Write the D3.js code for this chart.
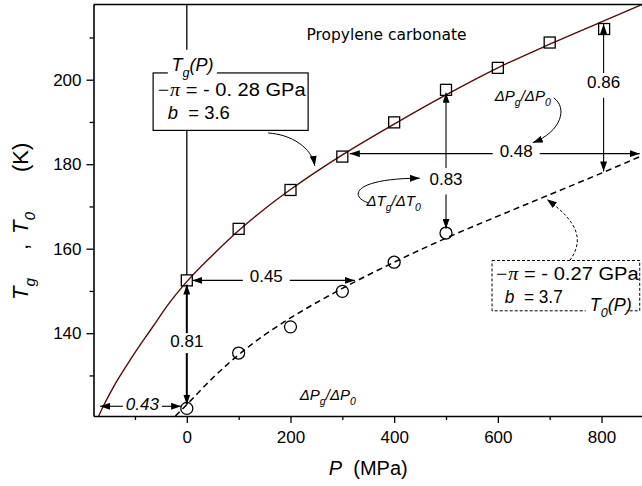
<!DOCTYPE html>
<html><head><meta charset="utf-8">
<script src="https://cdn.jsdelivr.net/npm/d3@7"></script>
<style>
body{margin:0;background:#fff}
svg{display:block}
text{font-family:"Liberation Sans",Arial,sans-serif;fill:#000;white-space:pre}
</style>
</head><body><svg id="c" width="642" height="486"></svg>
<script>
// ---------- data ----------
const xTicksMajor = [0, 200, 400, 600, 800];
const xTicksMinor = [-100, 100, 300, 500, 700];
const yTicksMajor = [140, 160, 180, 200];
const yTicksMinor = [130, 150, 170, 190, 210];

// measured Tg(P) (squares)
const tgPressure = [0, 100, 200, 300, 400, 500, 600, 700, 805];
const tgValues   = [152.5, 164.7, 173.9, 181.8, 189.9, 197.6, 202.8, 208.8, 212.0];
// measured T0(P) (circles)
const t0Pressure = [0, 100, 200, 300, 400, 500];
const t0Values   = [122.2, 135.3, 141.5, 149.9, 156.8, 163.7];
// fitted Tg(P) curve (solid)
const tgFitP = [-170, -160, -140, -120, -100, -80, -60, -40, -20, 0, 50, 100, 150, 200, 300, 400, 500, 600, 700, 800, 880];
const tgFitT = [120.4, 123.0, 127.6, 131.6, 135.4, 139.0, 142.5, 146.1, 149.3, 152.2, 158.5, 164.3, 169.4, 174.0, 182.2, 189.5, 196.4, 202.8, 208.4, 213.7, 217.9];
// fitted T0(P) curve (dashed)
const t0FitP = [-22, 0, 50, 100, 150, 200, 300, 400, 500, 600, 700, 800, 880];
const t0FitT = [120.4, 123.1, 129.4, 134.9, 139.6, 143.6, 150.6, 156.8, 162.5, 167.7, 172.8, 177.9, 182.1];

// ratio annotations
const verticalArrows = [
  {text: '0.81', p: 0,   from: 151.5, to: 123.1, gap: [140.0, 135.3], base: 136.7, w: 2},
  {text: '0.83', p: 500, from: 196.9, to: 164.7, gap: [179.1, 172.8], base: 175.1, w: 1.1},
  {text: '0.86', p: 804, from: 213.2, to: 178.3, gap: [201.6, 195.7], base: 198.0, w: 1.1}
];
const horizontalArrows = [
  {text: '0.45', t: 152.5, from: 10.6,   to: 324,   gap: [108, 198.6],    base: 152.2, italic: false},
  {text: '0.43', t: 122.7, from: -167.2, to: -11,   gap: [-123.4, -48.2], base: 121.9, italic: true},
  {text: '0.48', t: 182.5, from: 314.4,  to: 873.7, gap: [590, 680.8],    base: 181.8, italic: false}
];
const curvedArrows = [
  {pts: [[156.8, 187.4], [202.5, 187.0], [241.1, 183.9], [246.9, 179.6]], dash: false},
  {pts: [[707.8, 195.7], [734.8, 193.4], [723.2, 187.7], [667.3, 185.1]], dash: false},
  {pts: [[349.1, 170.9], [314.4, 172.3], [318.2, 176.6], [449.4, 176.7]], dash: false},
  {pts: [[738.7, 157.2], [767.6, 162.1], [754.1, 166.4], [694.3, 171.7]], dash: true}
];

// ---------- chart ----------
const svg = d3.select('#c');
const x = d3.scaleLinear().domain([-180, 880]).range([93.5, 643]);
const y = d3.scaleLinear().domain([120.4, 217.8]).range([416, 4.5]);
const [x0, x1] = x.range();
const [yb, yt] = y.range();

const defs = svg.append('defs');
defs.append('clipPath').attr('id', 'clip').append('rect')
  .attr('x', x0).attr('y', yt).attr('width', x1 - x0).attr('height', yb - yt);
defs.append('marker').attr('id', 'ah').attr('viewBox', '0 0 10 7')
  .attr('refX', 10).attr('refY', 3.5).attr('markerWidth', 10).attr('markerHeight', 7)
  .attr('markerUnits', 'userSpaceOnUse').attr('orient', 'auto')
  .append('path').attr('d', 'M0,0L10,3.5L0,7Z').attr('fill', '#000');

function rich(sel, parts, size, anchor) {
  const t = sel.append('text').attr('font-size', size).attr('text-anchor', anchor || 'start');
  let shift = 0;
  parts.forEach(p => {
    const ts = t.append('tspan').text(p.t);
    const target = p.sub ? 0.3 * size : 0;
    if (target !== shift) { ts.attr('dy', target - shift); shift = target; }
    if (p.x !== undefined) ts.attr('x', p.x);
    if (p.sub) ts.attr('font-size', size * 0.7);
    if (p.i) ts.attr('font-style', 'italic');
    if (p.serif) ts.attr('font-family', '"Liberation Serif",serif');
  });
  return t;
}

const plot = svg.append('g').attr('clip-path', 'url(#clip)');

// vertical reference line at P = 0
plot.append('line').attr('x1', x(0)).attr('x2', x(0)).attr('y1', y(217.8)).attr('y2', y(153.8))
  .attr('stroke', '#000').attr('stroke-width', 1.3);

// fitted curves
const lineGen = d3.line().x(d => x(d[0])).y(d => y(d[1])).curve(d3.curveMonotoneX);
plot.append('path').datum(t0FitP.map((p, i) => [p, t0FitT[i]])).attr('d', lineGen)
  .attr('fill', 'none').attr('stroke', '#000').attr('stroke-width', 1.5).attr('stroke-dasharray', '6,4');
plot.append('path').datum(tgFitP.map((p, i) => [p, tgFitT[i]])).attr('d', lineGen)
  .attr('fill', 'none').attr('stroke', '#550c0c').attr('stroke-width', 1.4);

// left parameter box
const ann = svg.append('g');
ann.append('rect').attr('x', x(-65)).attr('y', y(201.6)).attr('width', x(234) - x(-65)).attr('height', y(188.0) - y(201.6))
  .attr('fill', '#fff').attr('stroke', '#000').attr('stroke-width', 1.2);
ann.append('rect').attr('x', x(-36.6)).attr('y', y(207.1)).attr('width', x(58) - x(-36.6)).attr('height', y(200.5) - y(207.1))
  .attr('fill', '#fff');
rich(ann, [{t: 'T', i: true}, {t: 'g', i: true, sub: true}, {t: '(P)', i: true}], 18)
  .attr('x', x(-29.5)).attr('y', y(202.0));
rich(ann, [{t: '−π', i: true, serif: true}, {t: ' = - 0. 28 GPa'}], 18).attr('x', x(-58.4)).attr('y', y(196.05))
  .attr('textLength', 149).attr('lengthAdjust', 'spacingAndGlyphs');
rich(ann, [{t: 'b', i: true}, {t: '  = 3.6'}], 18).attr('x', x(-36.6)).attr('y', y(190.7))
  .attr('textLength', 62).attr('lengthAdjust', 'spacingAndGlyphs');

// right parameter box
ann.append('rect').attr('x', x(588.8)).attr('y', y(157.2)).attr('width', x(873.7) - x(588.8)).attr('height', y(145.3) - y(157.2))
  .attr('fill', '#fff').attr('stroke', '#000').attr('stroke-width', 1).attr('stroke-dasharray', '3,2');
ann.append('rect').attr('x', x(769.5)).attr('y', y(146.7)).attr('width', x(848.6) - x(769.5)).attr('height', y(142.7) - y(146.7))
  .attr('fill', '#fff');
rich(ann, [{t: 'T', i: true}, {t: '0', i: true, sub: true}, {t: '(P)', i: true}], 18)
  .attr('x', x(777.2)).attr('y', y(145.2));
rich(ann, [{t: '−π', i: true, serif: true}, {t: ' = - 0.27 GPa'}], 18).attr('x', x(594)).attr('y', y(152.7))
  .attr('textLength', 144).attr('lengthAdjust', 'spacingAndGlyphs');
rich(ann, [{t: 'b', i: true}, {t: '  = 3.7'}], 18).attr('x', x(613.3)).attr('y', y(147.15))
  .attr('textLength', 58).attr('lengthAdjust', 'spacingAndGlyphs');

// title
ann.append('text').attr('x', x(230.9)).attr('y', y(209.5)).attr('font-size', 15)
  .attr('textLength', 160).attr('lengthAdjust', 'spacingAndGlyphs')
  .style('font-family', '"Comic Sans MS","DejaVu Sans",sans-serif').text('Propylene carbonate');

// data points
const pts = svg.append('g');
pts.selectAll('rect.sq').data(tgPressure.map((p, i) => [p, tgValues[i]])).join('rect').attr('class', 'sq')
  .attr('x', d => x(d[0]) - 5.5).attr('y', d => y(d[1]) - 5.5).attr('width', 11).attr('height', 11)
  .attr('fill', 'none').attr('stroke', '#000').attr('stroke-width', 1.3);
pts.selectAll('circle').data(t0Pressure.map((p, i) => [p, t0Values[i]])).join('circle')
  .attr('cx', d => x(d[0])).attr('cy', d => y(d[1])).attr('r', 6)
  .attr('fill', 'none').attr('stroke', '#000').attr('stroke-width', 1.3);

// arrows
const arr = svg.append('g');
verticalArrows.forEach(a => {
  arr.append('line').attr('x1', x(a.p)).attr('x2', x(a.p)).attr('y1', y(a.gap[0])).attr('y2', y(a.from))
    .attr('stroke', '#000').attr('stroke-width', a.w).attr('marker-end', 'url(#ah)');
  arr.append('line').attr('x1', x(a.p)).attr('x2', x(a.p)).attr('y1', y(a.gap[1])).attr('y2', y(a.to))
    .attr('stroke', '#000').attr('stroke-width', a.w).attr('marker-end', 'url(#ah)');
  arr.append('text').attr('x', x(a.p)).attr('y', y(a.base)).attr('text-anchor', 'middle')
    .attr('font-size', 17).text(a.text);
});
horizontalArrows.forEach(a => {
  arr.append('line').attr('x1', x(a.gap[0])).attr('x2', x(a.from)).attr('y1', y(a.t)).attr('y2', y(a.t))
    .attr('stroke', '#000').attr('stroke-width', 1.1).attr('marker-end', 'url(#ah)');
  arr.append('line').attr('x1', x(a.gap[1])).attr('x2', x(a.to)).attr('y1', y(a.t)).attr('y2', y(a.t))
    .attr('stroke', '#000').attr('stroke-width', 1.1).attr('marker-end', 'url(#ah)');
  arr.append('text').attr('x', x((a.gap[0] + a.gap[1]) / 2)).attr('y', y(a.base)).attr('text-anchor', 'middle')
    .attr('font-size', 17).attr('font-style', a.italic ? 'italic' : 'normal').text(a.text);
});
curvedArrows.forEach(a => {
  const p = a.pts.map(d => [x(d[0]), y(d[1])]);
  arr.append('path').attr('d', `M${p[0]}C${p[1]} ${p[2]} ${p[3]}`)
    .attr('fill', 'none').attr('stroke', '#000').attr('stroke-width', 1)
    .attr('stroke-dasharray', a.dash ? '3,2' : null).attr('marker-end', 'url(#ah)');
});

// ratio labels
const dP = [{t: 'Δ', i: true}, {t: 'P', i: true}, {t: 'g', i: true, sub: true}, {t: '/', i: true}, {t: 'Δ', i: true}, {t: 'P', i: true}, {t: '0', i: true, sub: true}];
const dT = [{t: 'Δ', i: true}, {t: 'T', i: true}, {t: 'g', i: true, sub: true}, {t: '/', i: true}, {t: 'Δ', i: true}, {t: 'T', i: true}, {t: '0', i: true, sub: true}];
rich(arr, dP, 15).attr('x', x(594)).attr('y', y(194.9));
rich(arr, dT, 15).attr('x', x(346.6)).attr('y', y(170.0));
rich(arr, dP, 15).attr('x', x(217.9)).attr('y', y(124.1));

// axes
const axes = svg.append('g');
axes.append('g').attr('transform', `translate(0,${yb})`)
  .call(d3.axisBottom(x).tickValues(xTicksMajor).tickSize(7).tickSizeOuter(0).tickPadding(8).tickFormat(d3.format('d')));
const gxm = axes.append('g').attr('transform', `translate(0,${yb})`)
  .call(d3.axisBottom(x).tickValues(xTicksMinor).tickSize(4).tickFormat(''));
axes.append('g').attr('transform', `translate(${x0},0)`)
  .call(d3.axisLeft(y).tickValues(yTicksMajor).tickSize(7).tickSizeOuter(0).tickPadding(5).tickFormat(d3.format('d')));
const gym = axes.append('g').attr('transform', `translate(${x0},0)`)
  .call(d3.axisLeft(y).tickValues(yTicksMinor).tickSize(4).tickFormat(''));
gxm.select('.domain').remove();
gym.select('.domain').remove();
axes.selectAll('.domain').attr('stroke-width', 1.6);
axes.selectAll('.tick line').attr('stroke-width', 1.3);
axes.selectAll('.tick text').attr('font-size', 17).style('font-family', '"Liberation Sans",Arial,sans-serif');
axes.append('line').attr('x1', x0).attr('x2', x1).attr('y1', yt).attr('y2', yt)
  .attr('stroke', '#000').attr('stroke-width', 1.6);

// axis titles
rich(axes, [{t: 'P', i: true}, {t: '  (MPa)'}], 20).attr('text-anchor', 'middle')
  .attr('x', (x0 + x1) / 2).attr('y', yb + 59);
rich(axes, [
  {t: 'T', i: true, x: 0}, {t: 'g', i: true, sub: true},
  {t: ',', x: 50}, {t: 'T', i: true, x: 66}, {t: '0', i: true, sub: true},
  {t: '(K)', x: 128}
], 22).attr('transform', `translate(28,${yb - 116}) rotate(-90)`);
</script>
</body></html>
